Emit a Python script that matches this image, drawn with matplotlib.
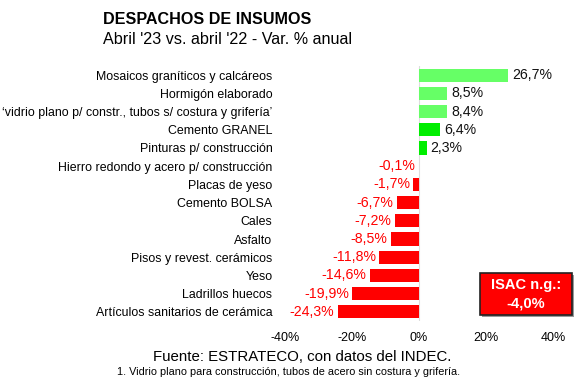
import matplotlib
matplotlib.use("Agg")
import matplotlib.pyplot as plt
from matplotlib.patches import Rectangle

plt.rcParams['font.family'] = ['Liberation Sans', 'DejaVu Sans']

categories = [
    "Mosaicos graníticos y calcáreos",
    "Hormigón elaborado",
    "‘vidrio plano p/ constr., tubos s/ costura y grifería’",
    "Cemento GRANEL",
    "Pinturas p/ construcción",
    "Hierro redondo y acero p/ construcción",
    "Placas de yeso",
    "Cemento BOLSA",
    "Cales",
    "Asfalto",
    "Pisos y revest. cerámicos",
    "Yeso",
    "Ladrillos huecos",
    "Artículos sanitarios de cerámica",
]
values = [26.7, 8.5, 8.4, 6.4, 2.3, -0.1, -1.7, -6.7, -7.2, -8.5, -11.8, -14.6, -19.9, -24.3]
colors = ["#66FF66", "#66FF66", "#66FF66", "#00EE00", "#00EE00"] + ["#FF0000"] * 9
xticks = [-40, -20, 0, 20, 40]
xtick_labels = ["-40%", "-20%", "0%", "20%", "40%"]
isac_label = "ISAC n.g.:"
isac_value = "-4,0%"

W, H = 580, 387
fig = plt.figure(figsize=(W / 100, H / 100), dpi=100)
ax = fig.add_axes([285 / W, 1 - 321 / H, (553 - 285) / W, (321 - 66) / H])

ypos = list(range(len(values)))
ax.barh(ypos, values, height=0.72, color=colors, edgecolor='none', zorder=2)
ax.set_ylim(len(values) - 0.5, -0.5)
ax.set_xlim(-40, 40)

for y, v, c in zip(ypos, values, colors):
    s = f"{v:.1f}".replace('.', ',') + "%"
    if v >= 0:
        ax.text(v + 1.2, y, s, ha='left', va='center', fontsize=10.2, color='#111111')
    else:
        ax.text(v - 1.0, y, s, ha='right', va='center', fontsize=10.2, color='#FF0000')

ax.set_yticks(ypos)
ax.set_yticklabels(categories, fontsize=8.9)
ax.tick_params(axis='y', length=0, pad=9)
ax.set_xticks(xticks)
ax.set_xticklabels(xtick_labels, fontsize=9)
ax.tick_params(axis='x', length=0, pad=8)
for sp in ax.spines.values():
    sp.set_visible(False)
ax.axvline(0, color='#DDDDDD', lw=0.8, zorder=1)
ax.set_facecolor('none')

fig.text(103 / W, 1 - 20 / H, "DESPACHOS DE INSUMOS", fontsize=11.6, fontweight='bold',
         ha='left', va='center')
fig.text(103 / W, 1 - 40 / H, "Abril '23 vs. abril '22 - Var. % anual", fontsize=11.6,
         ha='left', va='center')
fig.text(302 / W, 1 - 357 / H, "Fuente: ESTRATECO, con datos del INDEC.", fontsize=10.8,
         ha='center', va='center')
fig.text(289 / W, 1 - 372 / H, "1. Vidrio plano para construcción, tubos de acero sin costura y grifería.",
         fontsize=7.8, ha='center', va='center')

shadow = Rectangle((482 / W, 1 - 317 / H), 92 / W, 42 / H, transform=fig.transFigure,
                   facecolor='#999999', edgecolor='none', zorder=3)
box = Rectangle((480 / W, 1 - 315 / H), 92 / W, 42 / H, transform=fig.transFigure,
                facecolor='#FF0000', edgecolor='#222222', lw=1.2, zorder=4)
fig.patches.extend([shadow, box])
fig.text(526 / W, 1 - 285 / H, isac_label, fontsize=10.5, fontweight='bold', color='white',
         ha='center', va='center', zorder=5)
fig.text(526 / W, 1 - 303 / H, isac_value, fontsize=10.5, fontweight='bold', color='white',
         ha='center', va='center', zorder=5)

fig.savefig("out.png", dpi=100)
